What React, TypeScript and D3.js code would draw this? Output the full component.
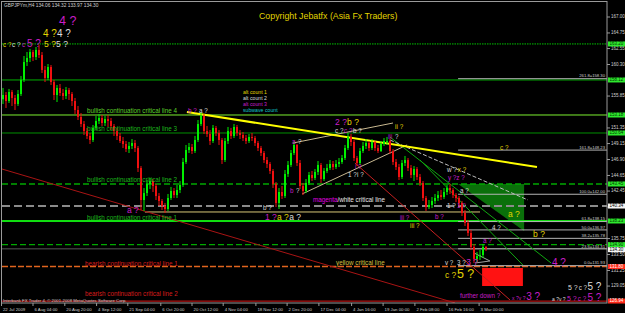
import React from 'react';
import * as d3 from 'd3';

const WIDTH = 625;
const HEIGHT = 313;
const FONT = '"Liberation Sans", Arial, sans-serif';

// ---------------- data ----------------
const symbolTitle = 'GBPJPYm,H4';
const headerValues = ['134.06', '134.32', '133.97', '134.30'];
const firstOpen = 155.4;
const lastPrice = 134.3;

const closes = [
  156.0, 155.15, 156.42, 155.58, 154.73, 156.14, 158.12, 160.65, 161.22, 162.06,
  161.36, 162.35, 161.64, 159.53, 158.4, 159.95, 157.83, 156.0, 156.99, 156.28,
  155.86, 156.7, 156.14, 155.15, 153.88, 152.9, 151.91, 150.92, 150.22, 149.65,
  151.35, 152.33, 152.76, 152.05, 152.61, 152.33, 151.63, 150.92, 150.22, 149.51,
  149.09, 148.38, 148.81, 149.23, 148.52, 145.7, 141.19, 142.17, 143.45, 143.87,
  143.16, 141.75, 141.05, 140.34, 139.92, 141.47, 142.46, 141.89, 142.6, 143.31,
  146.55, 148.24, 148.66, 148.1, 149.65, 151.91, 153.04, 150.92, 150.5, 149.51,
  151.35, 150.64, 149.65, 146.83, 149.51, 150.92, 150.22, 151.49, 150.64, 150.36,
  149.93, 149.51, 150.08, 149.93, 149.23, 148.52, 147.82, 146.83, 146.27, 145.28,
  143.45, 140.77, 142.32, 141.75, 144.86, 146.13, 147.82, 148.95, 146.41, 143.16,
  142.46, 143.59, 144.72, 144.29, 145.14, 146.13, 144.15, 145.28, 145.7, 146.27,
  145.84, 146.27, 146.55, 147.11, 148.52, 150.08, 149.37, 147.11, 146.41, 148.1,
  148.81, 149.23, 148.52, 149.37, 148.52, 148.1, 149.09, 149.51, 149.51, 148.1,
  146.55, 145.84, 144.43, 146.41, 146.83, 145.7, 144.72, 145.56, 144.43, 143.59,
  141.47, 140.2, 140.48, 141.05, 141.47, 141.89, 141.61, 142.32, 142.88, 142.6,
  141.89, 141.47, 140.77, 139.36, 137.95, 136.54, 134.56, 132.87, 133.29, 133.43,
  134.56, 134.3,
];
const highs = [
  156.99, 156.42, 156.85, 156.7, 156.0, 156.7, 158.68, 161.5, 162.06, 162.49,
  162.35, 162.77, 163.05, 162.06, 160.09, 160.37, 160.23, 158.12, 157.41, 157.55,
  156.85, 157.13, 156.99, 156.42, 155.58, 154.45, 153.46, 152.33, 151.35, 150.64,
  151.77, 153.04, 153.32, 153.18, 153.04, 153.18, 152.76, 151.91, 151.35, 150.64,
  150.08, 149.51, 149.37, 149.79, 149.65, 148.81, 145.98, 142.88, 144.01, 144.29,
  144.15, 143.45, 142.17, 141.33, 140.77, 142.04, 143.03, 142.88, 143.31, 143.87,
  147.11, 148.95, 149.23, 149.09, 150.22, 152.47, 153.6, 153.32, 151.63, 151.06,
  151.77, 151.63, 151.06, 149.93, 149.93, 151.49, 151.35, 151.91, 151.77, 151.06,
  150.78, 150.36, 150.5, 150.64, 150.22, 149.51, 148.81, 148.1, 147.25, 146.55,
  145.56, 143.73, 142.88, 143.16, 145.42, 146.69, 148.24, 149.37, 149.09, 146.83,
  143.59, 144.15, 145.14, 145.28, 145.56, 146.69, 146.41, 145.7, 146.27, 146.83,
  146.69, 146.83, 147.11, 147.54, 148.95, 150.64, 150.5, 149.65, 147.4, 148.52,
  149.37, 149.79, 149.51, 149.79, 149.51, 148.95, 149.51, 149.93, 150.08, 149.79,
  148.38, 146.97, 146.27, 146.83, 147.4, 147.11, 146.13, 145.98, 145.84, 144.86,
  143.87, 141.75, 141.19, 141.61, 142.04, 142.46, 142.6, 142.88, 143.31, 143.45,
  142.88, 142.17, 141.75, 141.05, 139.78, 138.37, 136.96, 134.98, 133.86, 134.14,
  134.98, 134.7,
];
const lows = [
  154.73, 154.17, 154.87, 154.45, 153.88, 154.45, 155.86, 157.83, 160.09, 160.65,
  160.79, 160.94, 161.22, 159.1, 157.83, 158.12, 157.41, 155.29, 155.01, 155.86,
  155.29, 155.43, 155.29, 154.45, 153.32, 152.47, 151.49, 150.36, 149.79, 149.09,
  149.37, 151.06, 151.91, 151.63, 151.63, 151.49, 151.06, 150.22, 149.65, 149.23,
  148.52, 147.96, 147.82, 148.38, 147.96, 145.14, 139.78, 139.64, 141.75, 142.74,
  142.32, 141.19, 140.34, 139.78, 139.36, 139.64, 141.19, 141.47, 141.47, 142.17,
  143.03, 146.27, 147.82, 147.68, 147.82, 149.37, 151.63, 150.5, 150.08, 148.95,
  149.23, 150.22, 148.95, 146.27, 146.55, 149.09, 149.79, 149.93, 150.22, 149.79,
  149.51, 149.09, 149.23, 149.51, 148.81, 148.1, 147.4, 146.41, 145.7, 144.86,
  142.88, 140.2, 139.92, 141.33, 141.47, 144.44, 145.85, 147.54, 145.98, 142.74,
  141.89, 142.17, 143.31, 143.87, 144.01, 144.72, 143.59, 143.87, 144.99, 145.42,
  145.42, 145.56, 145.84, 146.27, 146.83, 148.24, 148.81, 146.69, 145.98, 146.13,
  147.82, 148.38, 148.1, 148.24, 148.1, 147.82, 147.96, 148.81, 148.95, 147.68,
  146.13, 145.42, 144.01, 144.15, 145.98, 145.28, 144.29, 143.87, 144.01, 143.16,
  141.05, 139.64, 139.92, 140.06, 140.63, 141.05, 141.19, 141.33, 141.89, 142.04,
  141.47, 140.91, 140.34, 138.93, 137.52, 136.11, 134.14, 132.3, 132.44, 132.73,
  133.01, 133.99,
];

const timeLabels = [
  '22 Jul 2009', '6 Aug 04:00', '20 Aug 20:00', '4 Sep 12:00', '21 Sep 04:00', '6 Oct 20:00',
  '20 Oct 12:00', '4 Nov 04:00', '18 Nov 12:00', '2 Dec 20:00', '17 Dec 04:00', '4 Jan 16:00',
  '19 Jan 00:00', '2 Feb 08:00', '16 Feb 16:00', '3 Mar 00:00',
];
const timeLabelBars = [-0.5, 10, 20.6, 31.2, 41.6, 52.6, 63, 73.4, 84.3, 94.7, 105.3, 116.2, 126.7, 137.3, 148, 158.7];

const priceTicks = [167.0, 164.75, 162.55, 160.3, 155.85, 151.35, 149.15, 146.9, 144.65, 142.45, 140.2, 135.75, 133.5, 131.25, 129.05];

const levelPrices = [163.2, 158.12, 153.18, 150.64, 143.45, 140.34, 138.23, 134.9, 131.8, 126.94];
const levelKinds = ['greenDot', 'green', 'lime', 'darkGreen', 'greenDash', 'grayDash', 'greenBold', 'greenDash', 'orangeDash', 'red'];

const fibRatios = ['261.8', '161.8', '100.0', '61.8', '50.0', '38.2', '23.6', '0.0'];
const fibPrices = [158.3, 148.23, 142.0, 138.15, 136.97, 135.78, 134.31, 131.93];
const fibStartBar = 151.7;

const criticalTexts = [
  'bullish continuation critical line 4',
  'bullish continuation critical line 3',
  'bullish continuation critical line 2',
  'bullish continuation critical line 1',
  'bearish continuation critical line 1',
  'bearish continuation critical line 2',
  'yellow critical line',
];
const criticalBars = [28, 28, 28, 28, 27.3, 27.3, 111];
const criticalPrices = [153.46, 150.92, 143.73, 138.3, 131.95, 127.65, 132.02];
const criticalKinds = ['lime', 'green', 'green', 'green', 'red', 'red', 'yellow'];

const magentaWhiteBar = 103.3;
const magentaWhitePrice = 140.91;

// trend lines: [bar1, price1, bar2, price2, kind]
const trendLines: [number, number, number, number, string][] = [
  [47.3, 139.5, 159, 139.5, 'paleYellow'],
  [-0.33, 145.56, 150.7, 126.67, 'darkRed'],
  [117.3, 146.41, 169, 127.09, 'red'],
  [96.7, 149.23, 130, 152.05, 'tan'],
  [99.7, 142.04, 134.7, 148.95, 'tan'],
  [129, 150.07, 182.7, 132.3, 'green'],
  [139, 146.83, 173.3, 132.02, 'green'],
  [129, 149.65, 175, 141.19, 'whiteDash'],
  [157, 133.72, 162.3, 132.59, 'gray'],
  [157.3, 132.3, 162.3, 132.59, 'gray'],
  [61.3, 153.6, 178, 145.84, 'yellow'],
];

const greenZone: [number, number][] = [[151.7, 143.45], [173.7, 143.45], [173.7, 136.82]];
const redZoneBars = [159.7, 173.3];
const redZonePrices = [131.6, 129.06];

// wave labels: [text, bar, price, count, degree]
const waveLabels: [string, number, number, string, string][] = [
  ['4 ?', 18.7, 165.87, 'alt3', 'xl'],
  ['4 ?', 13.3, 164.18, 'alt1', 'lg'],
  ['4 ?', 18.0, 164.18, 'alt2', 'lg'],
  ['c ?', 0, 162.7, 'alt1', 'sm'],
  ['c ?', 3, 162.7, 'alt2', 'sm'],
  ['c', 6.3, 162.7, 'alt3', 'sm'],
  ['5 ?', 8, 162.7, 'alt3', 'lg'],
  ['5 ?', 13.7, 162.7, 'alt1', 'md'],
  ['5 ?', 17.7, 162.7, 'alt2', 'md'],
  ['b ?', 61.7, 153.46, 'alt3', 'sm'],
  ['a ?', 65.3, 153.46, 'alt2', 'sm'],
  ['2 ?', 110.7, 151.77, 'alt3', 'md'],
  ['b ?', 114.7, 151.77, 'alt1', 'md'],
  ['c ?', 110.7, 150.64, 'alt2', 'sm'],
  ['c ?', 113.7, 150.64, 'alt3', 'sm'],
  ['b ?', 116.7, 150.64, 'alt2', 'sm'],
  ['ii ?', 130.7, 151.21, 'alt1', 'sm'],
  ['iii', 128.3, 149.79, 'alt3', 'sm'],
  ['?', 130.7, 149.79, 'alt2', 'sm'],
  ['a', 96.3, 149.09, 'alt3', 'sm'],
  ['?', 98.3, 149.09, 'alt2', 'sm'],
  ['b', 95.7, 142.17, 'alt3', 'sm'],
  ['?', 97.7, 142.17, 'alt2', 'sm'],
  ['b ?', 86.7, 139.78, 'alt2', 'sm'],
  ['1 ?', 87.3, 138.37, 'alt3', 'md'],
  ['a ?', 91.3, 138.37, 'alt1', 'md'],
  ['a ?', 95.4, 138.37, 'alt2', 'md'],
  ['a ?', 41.3, 139.36, 'alt3', 'md'],
  ['1 ?', 115, 144.43, 'alt2', 'sm'],
  ['i ?', 118, 144.43, 'alt2', 'sm'],
  ['i ?', 117.3, 145.56, 'alt3', 'sm'],
  ['iii ?', 132.3, 138.37, 'alt3', 'sm'],
  ['iii ?', 135.7, 137.24, 'alt1', 'sm'],
  ['b ?', 144, 138.51, 'alt3', 'sm'],
  ['1 ?', 148, 140.06, 'alt2', 'sm'],
  ['1 ?', 151.3, 140.06, 'alt3', 'sm'],
  ['w ?', 148, 145.14, 'alt2', 'sm'],
  ['x ?', 151.6, 145.14, 'alt1', 'sm'],
  ['y ?z ?', 148.3, 144.01, 'alt3', 'sm'],
  ['a ?', 152.3, 142.17, 'alt2', 'sm'],
  ['a ?', 168.3, 138.79, 'alt1', 'md'],
  ['b ?', 176.7, 135.97, 'alt1', 'md'],
  ['4 ?', 163, 136.96, 'alt2', 'sm'],
  ['a ?', 160, 135.13, 'alt3', 'sm'],
  ['v ?', 147.3, 132.02, 'alt2', 'sm'],
  ['3 ?', 151.3, 132.02, 'alt2', 'sm'],
  ['3 ?', 154.4, 132.02, 'alt3', 'md'],
  ['c ?', 147.3, 130.12, 'alt1', 'md'],
  ['5 ?', 151.3, 130.12, 'alt1', 'xl'],
  ['4 ?', 183, 131.88, 'alt3', 'lg'],
  ['further down ?', 152.3, 127.37, 'alt3', 'sm'],
  ['x ?v ?', 169.7, 127.09, 'alt3', 'xs'],
  ['3 ?', 174.4, 127.09, 'alt3', 'lg'],
  ['5 ?', 188.3, 128.56, 'alt2', 'ms'],
  ['c ?', 191.9, 128.56, 'alt2', 'sm'],
  ['5 ?', 194.8, 128.56, 'alt2', 'big'],
  ['a ?v ?', 183, 126.88, 'alt2', 'xs'],
  ['5 ?', 188, 126.88, 'alt3', 'ms'],
  ['c ?', 191.6, 126.88, 'alt3', 'sm'],
  ['5 ?', 194.8, 126.88, 'alt3', 'big'],
  ['c ?', 165.7, 148.24, 'alt1', 'sm'],
];

const legendTexts = ['alt count 1', 'alt count 2', 'alt count 3', 'subwave count'];
const legendKinds = ['alt1', 'alt2', 'alt3', 'sub'];
const legendBar = 80;
const legendPrices = [156.14, 155.29, 154.45, 153.6];

const copyrightText = 'Copyright Jebatfx (Asia Fx Traders)';
const footerText = 'Interbank FX Trader 4, \u00a9 2001-2008 MetaQuotes Software Corp.';

// ---------------- styles ----------------
const countColors: Record<string, string> = {
  alt1: '#e2d400',
  alt2: '#dcdcdc',
  alt3: '#c81ec8',
  sub: '#10c8c8',
};
const degreeSizes: Record<string, number> = { xs: 5, sm: 6.3, ms: 7, md: 8.5, lg: 10, big: 10, xl: 12.5 };

const levelStyles: Record<string, { stroke: string; width: number; dash?: string; tag: string; tagText: string }> = {
  greenDot: { stroke: '#00c400', width: 1, dash: '1.5,1', tag: '#2ee82e', tagText: '#003300' },
  green: { stroke: '#00b000', width: 1, tag: '#2ee82e', tagText: '#003300' },
  lime: { stroke: '#7cf030', width: 1, tag: '#2ee82e', tagText: '#003300' },
  darkGreen: { stroke: '#009000', width: 1, tag: '#2ee82e', tagText: '#003300' },
  greenDash: { stroke: '#00a800', width: 1.4, dash: '6,3', tag: '#2ee82e', tagText: '#003300' },
  grayDash: { stroke: '#8a8a8a', width: 2, dash: '8,4', tag: '#f4f4f4', tagText: '#000000' },
  greenBold: { stroke: '#10dd10', width: 2, tag: '#2ee82e', tagText: '#003300' },
  orangeDash: { stroke: '#e0641e', width: 1.5, dash: '6,2', tag: '#ff2a1a', tagText: '#ffffff' },
  red: { stroke: '#b01010', width: 1.2, tag: '#ff2a1a', tagText: '#ffffff' },
};

const trendStyles: Record<string, { stroke: string; width: number; dash?: string }> = {
  paleYellow: { stroke: '#d8c878', width: 1 },
  darkRed: { stroke: '#a81414', width: 1 },
  red: { stroke: '#c42020', width: 1 },
  tan: { stroke: '#c8b890', width: 1 },
  green: { stroke: '#10a810', width: 1 },
  whiteDash: { stroke: '#bdbdbd', width: 1, dash: '4,2' },
  gray: { stroke: '#a0a0a0', width: 1 },
  yellow: { stroke: '#ffff00', width: 2 },
};

const criticalColors: Record<string, string> = {
  lime: '#5ed02a',
  green: '#1cb81c',
  red: '#d81c1c',
  yellow: '#d4c040',
};

const AXIS_FONT = 4.5;
const TAG_H = 5;

export default function App() {
  const x = d3.scaleLinear().domain([-1 / 3, 201.333]).range([2, 607]);
  const y = d3.scaleLinear().domain([126.663, 169.116]).range([303, 2]);
  const [plotLeft, plotRight] = x.range();
  const plotTop = 2;
  const plotBottom = 303;

  const bars = closes.map((c, i) => ({
    i,
    o: i === 0 ? firstOpen : closes[i - 1],
    c,
    h: highs[i],
    l: lows[i],
  }));

  const zonePath = d3.line<[number, number]>()
    .x((d) => x(d[0]))
    .y((d) => y(d[1]))(greenZone) + 'Z';

  const tagPrices = [...levelPrices, lastPrice];
  const tagKinds = [...levelKinds, 'grayDash'];
  // the bid tag sits just below the nearby level tag, as in the terminal
  const tagOffsets = tagPrices.map((_, k) => (k === tagPrices.length - 1 ? 0.8 : 0));

  return (
    <svg
      width={WIDTH}
      height={HEIGHT}
      style={{ position: 'absolute', left: 0, top: 0, display: 'block' }}
      fontFamily={FONT}
    >
      <rect width={WIDTH} height={HEIGHT} fill="#000" />
      <defs>
        <clipPath id="plotClip">
          <rect x={plotLeft} y={plotTop} width={plotRight - plotLeft} height={plotBottom - plotTop} />
        </clipPath>
      </defs>

      <g clipPath="url(#plotClip)">
        {/* filled zones */}
        <path d={zonePath} fill="#0a700a" />
        <rect
          x={x(redZoneBars[0])}
          y={y(redZonePrices[0])}
          width={x(redZoneBars[1]) - x(redZoneBars[0])}
          height={y(redZonePrices[1]) - y(redZonePrices[0])}
          fill="#ff1212"
        />

        {/* bid line */}
        <line x1={plotLeft} x2={plotRight} y1={y(lastPrice)} y2={y(lastPrice)} stroke="#6e6e6e" strokeWidth={0.8} />

        {/* horizontal critical levels */}
        {levelPrices.map((p, k) => {
          const s = levelStyles[levelKinds[k]];
          return (
            <line key={'lv' + k} x1={plotLeft} x2={plotRight} y1={y(p)} y2={y(p)}
              stroke={s.stroke} strokeWidth={s.width} strokeDasharray={s.dash} />
          );
        })}

        {/* fibonacci levels */}
        {fibPrices.map((p, k) => (
          <g key={'fib' + k}>
            <line x1={x(fibStartBar)} x2={plotRight} y1={y(p)} y2={y(p)} stroke="#b4b4b4" strokeWidth={1} />
            <text x={plotRight - 2} y={y(p) - 1.2} fontSize={4.2} fill="#cfcfcf" textAnchor="end">
              {fibRatios[k] + '=' + p.toFixed(2)}
            </text>
          </g>
        ))}

        {/* trend lines */}
        {trendLines.map((t, k) => {
          const s = trendStyles[t[4]];
          return (
            <line key={'tl' + k} x1={x(t[0])} y1={y(t[1])} x2={x(t[2])} y2={y(t[3])}
              stroke={s.stroke} strokeWidth={s.width} strokeDasharray={s.dash} />
          );
        })}

        {/* price bars */}
        {bars.map((b) => {
          const up = b.c >= b.o;
          const col = up ? '#00f000' : '#f01010';
          const cx = x(b.i);
          const top = y(Math.max(b.o, b.c));
          const bot = y(Math.min(b.o, b.c));
          return (
            <g key={'bar' + b.i}>
              <line x1={cx} x2={cx} y1={y(b.h)} y2={y(b.l)} stroke={col} strokeWidth={1} />
              <rect x={cx - 1} y={top} width={2} height={Math.max(1, bot - top)} fill={col} />
            </g>
          );
        })}

        {/* critical line captions */}
        {criticalTexts.map((t, k) => (
          <text key={'ct' + k} x={x(criticalBars[k])} y={y(criticalPrices[k])}
            fontSize={6.3} fill={criticalColors[criticalKinds[k]]}>
            {t}
          </text>
        ))}
        <text x={x(magentaWhiteBar)} y={y(magentaWhitePrice)} fontSize={6.3}>
          <tspan fill="#e000e0">magenta</tspan>
          <tspan fill="#e8e8e8">/white critical line</tspan>
        </text>

        {/* legend */}
        {legendTexts.map((t, k) => (
          <text key={'lg' + k} x={x(legendBar)} y={y(legendPrices[k])} fontSize={5.2} fill={countColors[legendKinds[k]]}>
            {t}
          </text>
        ))}

        {/* wave labels */}
        {waveLabels.map((w, k) => (
          <text key={'wl' + k} x={x(w[1])} y={y(w[2])} fontSize={degreeSizes[w[4]]} fill={countColors[w[3]]}>
            {w[0]}
          </text>
        ))}

        {/* header texts */}
        <text x={4} y={7} fontSize={4.8} fill="#d0d0d0">
          {symbolTitle + '  ' + headerValues.join(' ')}
        </text>
        <text x={259} y={19} fontSize={8.8} fill="#e2d400">{copyrightText}</text>
        <text x={3} y={301.8} fontSize={4.3} fill="#cfcfcf">{footerText}</text>
      </g>

      {/* frame */}
      <rect x={1.5} y={1.5} width={plotRight - 1.5} height={plotBottom - 1.5} fill="none" stroke="#9a9a9a" strokeWidth={1} />

      {/* price axis */}
      {priceTicks.map((p, k) => (
        <g key={'pt' + k}>
          <line x1={plotRight} x2={plotRight + 3} y1={y(p)} y2={y(p)} stroke="#9a9a9a" />
          <text x={plotRight + 4} y={y(p)} fontSize={AXIS_FONT} fill="#d0d0d0" dominantBaseline="middle">
            {p.toFixed(2)}
          </text>
        </g>
      ))}
      {tagPrices.map((p, k) => {
        const s = levelStyles[tagKinds[k]];
        const cy = y(p) + tagOffsets[k];
        return (
          <g key={'tag' + k}>
            <rect x={plotRight + 1} y={cy - TAG_H / 2} width={WIDTH - plotRight - 1} height={TAG_H} fill={s.tag} />
            <text x={plotRight + 2.5} y={cy + 0.2} fontSize={AXIS_FONT} fill={s.tagText} dominantBaseline="middle">
              {p.toFixed(2)}
            </text>
          </g>
        );
      })}

      {/* time axis */}
      {timeLabels.map((t, k) => {
        const tx = x(timeLabelBars[k]);
        return (
          <g key={'tt' + k}>
            <line x1={tx} x2={tx} y1={plotBottom} y2={plotBottom + 3} stroke="#9a9a9a" />
            <text x={tx + 1.5} y={311} fontSize={4.3} fill="#d0d0d0">{t}</text>
          </g>
        );
      })}
    </svg>
  );
}
